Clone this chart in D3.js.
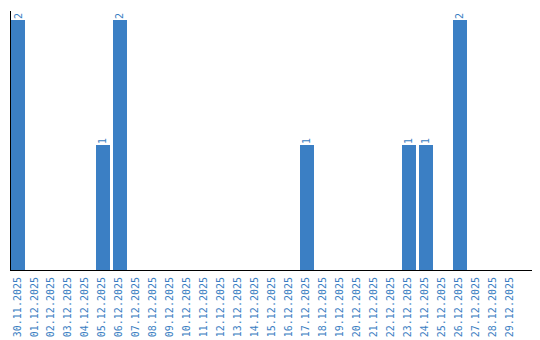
<!DOCTYPE html>
<html>
<head>
<meta charset="utf-8">
<script src="https://cdn.jsdelivr.net/npm/d3@7"></script>
<style>
    body { margin: 0; background: #fff; }
    text { font-family: "DejaVu Sans Mono", monospace; font-size: 10px; }
</style>
</head>
<body>
<div id="chart"></div>
<script>
// Data
const dates = ["30.11.2025", "01.12.2025", "02.12.2025", "03.12.2025", "04.12.2025",
    "05.12.2025", "06.12.2025", "07.12.2025", "08.12.2025", "09.12.2025",
    "10.12.2025", "11.12.2025", "12.12.2025", "13.12.2025", "14.12.2025",
    "15.12.2025", "16.12.2025", "17.12.2025", "18.12.2025", "19.12.2025",
    "20.12.2025", "21.12.2025", "22.12.2025", "23.12.2025", "24.12.2025",
    "25.12.2025", "26.12.2025", "27.12.2025", "28.12.2025", "29.12.2025"]
const counts = [2, 0, 0, 0, 0, 1, 2, 0, 0, 0,
    0, 0, 0, 0, 0, 0, 0, 1, 0, 0,
    0, 0, 0, 1, 1, 0, 2, 0, 0, 0]

// Consts
const width = 540
const height = 340
const bar_color = "#3b7fc4"
const text_color = "#3a7ec2"

const svg = d3.select("#chart").append("svg")
    .attr("width", width)
    .attr("height", height)

const x = d3.scaleBand()
    .domain(dates)
    .range([10, 531])
    .paddingInner(3 / 17)
    .paddingOuter(0.4118)
    .align(1 / 14)

const y = d3.scaleLinear()
    .domain([0, 2.08])
    .range([270, 10])

const data = dates.map((d, i) => ({date: d, value: counts[i]}))

// Bars
svg.selectAll("rect.bar")
    .data(data.filter(d => d.value > 0))
    .join("rect")
    .attr("class", "bar")
    .attr("x", d => x(d.date))
    .attr("y", d => y(d.value))
    .attr("width", x.bandwidth())
    .attr("height", d => y(0) - y(d.value))
    .attr("fill", bar_color)

// Value labels
svg.selectAll("text.val")
    .data(data.filter(d => d.value > 0))
    .join("text")
    .attr("class", "val")
    .attr("transform", d => "translate(" + (x(d.date) + x.bandwidth() / 2) + "," + (y(d.value) - 1) + ") rotate(-90)")
    .attr("dy", "0.35em")
    .attr("text-anchor", "start")
    .attr("fill", text_color)
    .text(d => d.value)

// Axes
const x_axis = svg.append("g")
    .attr("transform", "translate(0,270)")
    .call(d3.axisBottom(x).tickSize(0).tickSizeOuter(0))
x_axis.select(".domain").attr("stroke", "#000").attr("shape-rendering", "crispEdges")
x_axis.selectAll("text")
    .attr("font-family", "DejaVu Sans Mono")
    .attr("font-size", 10)
    .attr("fill", text_color)
    .attr("text-anchor", "end")
    .attr("transform", "rotate(-90)")
    .attr("x", -7)
    .attr("y", 0)
    .attr("dy", "0.25em")

const y_axis = svg.append("g")
    .attr("transform", "translate(10,0)")
    .call(d3.axisLeft(y).ticks(0).tickSize(0).tickSizeOuter(0).tickFormat(""))
y_axis.select(".domain").attr("stroke", "#000").attr("shape-rendering", "crispEdges")
</script>
</body>
</html>
